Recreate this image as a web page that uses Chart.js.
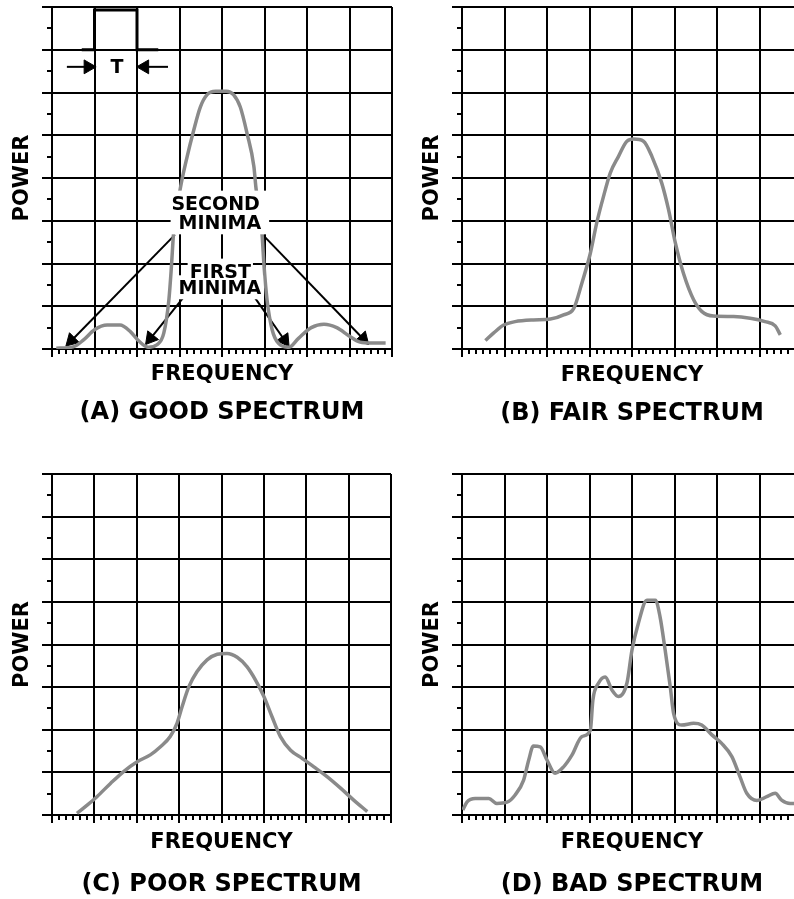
<!DOCTYPE html>
<html>
<head>
<meta charset="utf-8">
<script src="https://cdn.jsdelivr.net/npm/chart.js@4.4.1/dist/chart.umd.min.js"></script>
<style>
  html, body { margin: 0; padding: 0; background: #fff; overflow: hidden; }
  body { width: 794px; height: 899px; position: relative; }
  canvas { position: absolute; }
</style>
</head>
<body>
<canvas id="chartA"></canvas>
<canvas id="chartB"></canvas>
<canvas id="chartC"></canvas>
<canvas id="chartD"></canvas>
<script>
// grid runs 0-8 on both axes; values in grid units
const goodFreq  = [0.1, 0.5, 0.75, 1.0, 1.3, 1.6, 1.85, 2.05, 2.27, 2.47, 2.63, 2.75, 2.81, 2.86, 3.02, 3.18, 3.33, 3.49, 3.65, 3.85, 4.1, 4.27, 4.43, 4.59, 4.75, 4.8, 4.94, 4.99, 5.06, 5.18, 5.33, 5.57, 5.8, 6.1, 6.4, 6.7, 7.0, 7.25, 7.5, 7.85];
const goodPower = [0.02, 0.05, 0.22, 0.45, 0.56, 0.56, 0.4, 0.18, 0.04, 0.1, 0.37, 1.15, 1.93, 2.7, 3.76, 4.5, 5.1, 5.66, 5.95, 6.03, 6.03, 5.95, 5.66, 5.04, 4.27, 3.76, 2.71, 1.93, 1.15, 0.45, 0.13, 0.04, 0.25, 0.5, 0.58, 0.5, 0.3, 0.16, 0.14, 0.14];

const fairFreq  = [0.55, 0.74, 0.98, 1.25, 1.68, 2.08, 2.39, 2.63, 2.82, 3.02, 3.17, 3.33, 3.49, 3.68, 3.88, 4.04, 4.27, 4.47, 4.7, 4.86, 5.02, 5.21, 5.45, 5.64, 5.92, 6.39, 6.78, 7.13, 7.37, 7.49];
const fairPower = [0.2, 0.37, 0.56, 0.64, 0.68, 0.7, 0.8, 0.95, 1.54, 2.24, 2.95, 3.57, 4.12, 4.5, 4.86, 4.91, 4.86, 4.5, 3.88, 3.26, 2.48, 1.77, 1.15, 0.88, 0.77, 0.76, 0.72, 0.64, 0.54, 0.33];

const poorFreq  = [0.59, 0.83, 1.06, 1.38, 1.69, 2.01, 2.32, 2.56, 2.79, 2.95, 3.07, 3.23, 3.42, 3.66, 3.9, 4.13, 4.37, 4.6, 4.8, 5.0, 5.19, 5.39, 5.63, 5.9, 6.18, 6.49, 6.81, 7.12, 7.44];
const poorPower = [0.04, 0.23, 0.43, 0.74, 1.02, 1.25, 1.41, 1.6, 1.84, 2.15, 2.54, 3.01, 3.36, 3.64, 3.77, 3.79, 3.7, 3.48, 3.17, 2.78, 2.31, 1.84, 1.52, 1.33, 1.13, 0.9, 0.63, 0.35, 0.08];

const badFreq  = [0.02, 0.12, 0.31, 0.63, 0.82, 1.06, 1.25, 1.45, 1.57, 1.68, 1.84, 2.0, 2.19, 2.39, 2.59, 2.82, 3.02, 3.08, 3.21, 3.37, 3.53, 3.68, 3.88, 4.0, 4.15, 4.35, 4.55, 4.66, 4.78, 4.9, 4.98, 5.17, 5.45, 5.64, 5.88, 6.11, 6.35, 6.54, 6.7, 6.94, 7.17, 7.37, 7.52, 7.72, 7.95];
const badPower = [0.12, 0.31, 0.39, 0.39, 0.27, 0.3, 0.47, 0.82, 1.29, 1.62, 1.6, 1.29, 0.98, 1.13, 1.41, 1.84, 1.99, 2.7, 3.09, 3.24, 2.93, 2.78, 3.09, 3.87, 4.5, 5.04, 5.04, 4.65, 3.87, 3.01, 2.38, 2.11, 2.15, 2.11, 1.88, 1.68, 1.37, 0.9, 0.51, 0.34, 0.43, 0.51, 0.35, 0.27, 0.27];

const captions = ['(A) GOOD SPECTRUM', '(B) FAIR SPECTRUM', '(C) POOR SPECTRUM', '(D) BAD SPECTRUM'];

// panel A extras: the pulse of width T, its arrows and the minima callouts
const pulseFreq  = [0.7, 1, 1, 2, 2, 2.5];
const pulsePower = [7, 7, 7.93, 7.93, 7, 7];

const arrowFromX = [0.35, 2.73, 2.89, 4.96, 3.08, 4.78];
const arrowFromY = [6.6, 6.6, 2.67, 2.67, 1.19, 1.19];
const arrowToX   = [0.85, 2.18, 0.46, 7.32, 2.32, 5.47];
const arrowToY   = [6.6, 6.6, 0.2, 0.24, 0.25, 0.21];
const arrowAngle = [90, 270, 225, 136, 219, 145];

const noteText  = ['SECOND', 'MINIMA', 'FIRST', 'MINIMA', 'T'];
const noteX     = [3.85, 3.95, 3.96, 3.95, 1.53];
const noteY     = [3.4, 2.94, 1.81, 1.42, 6.6];
const noteBoxed = [true, true, true, true, false];

const FONT = '"DejaVu Sans", "Liberation Sans", sans-serif';
const curveColor = '#8a8a8a';

const minorTicks = {
  id: 'minorTicks',
  afterDraw(chart) {
    const { ctx, chartArea, scales: { x, y } } = chart;
    ctx.save();
    ctx.strokeStyle = '#000';
    ctx.lineWidth = 2;
    ctx.beginPath();
    for (let k = 1; k < 48; k++) {
      if (k % 6 === 0) continue;
      const px = Math.round(x.getPixelForValue(k / 6));
      ctx.moveTo(px, chartArea.bottom);
      ctx.lineTo(px, chartArea.bottom + 5);
    }
    for (let k = 0; k < 8; k++) {
      const py = Math.round(y.getPixelForValue(k + 0.5));
      ctx.moveTo(chartArea.left - 5, py);
      ctx.lineTo(chartArea.left, py);
    }
    ctx.stroke();
    ctx.restore();
  }
};

const minimaNotes = {
  id: 'minimaNotes',
  afterDatasetsDraw(chart) {
    const { ctx, scales: { x, y } } = chart;
    ctx.save();
    ctx.font = 'bold 19px ' + FONT;
    ctx.textAlign = 'center';
    ctx.textBaseline = 'middle';
    ctx.fillStyle = '#fff';
    noteText.forEach((t, i) => {
      if (!noteBoxed[i]) return;
      // the upper callout hides a wider strip of the main lobe
      const w = ctx.measureText(t).width + (i < 2 ? 16 : 4);
      ctx.fillRect(x.getPixelForValue(noteX[i]) - w / 2, y.getPixelForValue(noteY[i]) - 13, w, 24);
    });
    ctx.fillStyle = '#000';
    noteText.forEach((t, i) => {
      ctx.fillText(t, x.getPixelForValue(noteX[i]), y.getPixelForValue(noteY[i]) + 1);
    });
    ctx.restore();
  }
};

function toPoints(xs, ys) {
  return xs.map((v, i) => ({ x: v, y: ys[i] }));
}

function makePanel(p, extraDatasets, extraPlugins) {
  const canvas = document.getElementById(p.id);
  const cLeft = p.left - 60, cTop = p.top - 10;
  const w = p.right - p.left + 70, h = p.capY + 20 - cTop;
  canvas.width = w;
  canvas.height = h;
  canvas.style.left = cLeft + 'px';
  canvas.style.top = cTop + 'px';
  canvas.style.width = w + 'px';
  canvas.style.height = h + 'px';

  const axisBottom = p.capY - 14.4;

  new Chart(canvas, {
    type: 'line',
    data: {
      datasets: [{
        data: toPoints(p.freq, p.power),
        borderColor: curveColor,
        borderWidth: 3.5,
        pointRadius: 0,
        cubicInterpolationMode: 'monotone'
      }].concat(extraDatasets)
    },
    options: {
      responsive: false,
      animation: false,
      devicePixelRatio: 1,
      layout: { padding: { left: 0, top: 10, right: 10, bottom: 0 } },
      plugins: {
        legend: { display: false },
        tooltip: { enabled: false },
        title: {
          display: true,
          text: p.caption,
          position: 'bottom',
          fullSize: false,
          color: '#000',
          font: { family: FONT, size: 24, weight: 'bold', lineHeight: 1.2 },
          padding: { top: 0, bottom: 5.6 }
        }
      },
      scales: {
        x: {
          type: 'linear',
          min: 0,
          max: 8,
          ticks: { display: false, stepSize: 1 },
          grid: { color: '#000', lineWidth: 2, tickLength: 8 },
          border: { color: '#000', width: 2 },
          title: {
            display: true,
            text: 'FREQUENCY',
            color: '#000',
            font: { family: FONT, size: 21, weight: 'bold', lineHeight: 1.2 },
            padding: { top: 0, bottom: axisBottom - 12.6 - p.freqY }
          },
          afterFit: s => { s.height = axisBottom - p.bottom; }
        },
        y: {
          min: 0,
          max: 8,
          ticks: { display: false, stepSize: 1 },
          grid: { color: '#000', lineWidth: 2, tickLength: 10 },
          border: { color: '#000', width: 2 },
          title: {
            display: true,
            text: 'POWER',
            color: '#000',
            font: { family: FONT, size: 21, weight: 'bold', lineHeight: 1.2 },
            padding: { top: 31 - 12.6, bottom: 0 }
          },
          afterFit: s => { s.width = 60; }
        }
      }
    },
    plugins: [minorTicks].concat(extraPlugins)
  });
}

const pulseSets = [{
  data: toPoints(pulseFreq, pulsePower),
  borderColor: '#000',
  borderWidth: 3,
  pointRadius: 0,
  tension: 0
}];
arrowFromX.forEach((fx, i) => {
  pulseSets.push({
    data: [{ x: fx, y: arrowFromY[i] }, { x: arrowToX[i], y: arrowToY[i] }],
    borderColor: '#000',
    borderWidth: 2,
    tension: 0,
    pointStyle: 'triangle',
    pointRadius: [0, 8],
    pointRotation: [0, arrowAngle[i]],
    pointBackgroundColor: '#000',
    pointBorderColor: '#000',
    pointBorderWidth: 1
  });
});

makePanel({ id: 'chartA', caption: captions[0], freq: goodFreq, power: goodPower,
  left: 52, right: 392, top: 7, bottom: 349, freqY: 375, capY: 413 }, pulseSets, [minimaNotes]);
makePanel({ id: 'chartB', caption: captions[1], freq: fairFreq, power: fairPower,
  left: 462, right: 802, top: 7, bottom: 349, freqY: 376, capY: 414 }, [], []);
makePanel({ id: 'chartC', caption: captions[2], freq: poorFreq, power: poorPower,
  left: 52, right: 391, top: 474, bottom: 815, freqY: 843, capY: 885 }, [], []);
makePanel({ id: 'chartD', caption: captions[3], freq: badFreq, power: badPower,
  left: 462, right: 802, top: 474, bottom: 815, freqY: 843, capY: 885 }, [], []);
</script>
</body>
</html>
